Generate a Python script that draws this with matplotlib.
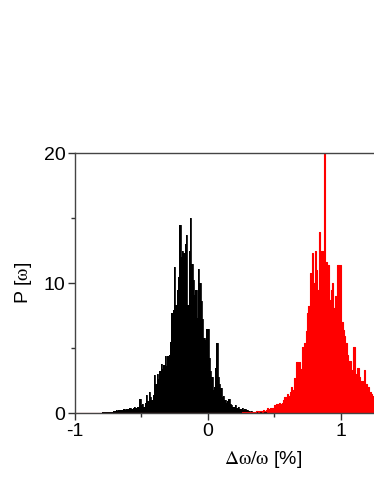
import matplotlib
matplotlib.use('Agg')
import matplotlib.pyplot as plt
import numpy as np

plt.rcParams['font.family'] = ['Liberation Sans', 'DejaVu Sans']
plt.rcParams['mathtext.fontset'] = 'stix'
plt.rcParams['axes.unicode_minus'] = False

# black spectrum, 0.01 steps from -0.80 to 0.45
black_x = np.round(np.arange(-0.80, 0.455, 0.01), 2)
black_y = [0.05, 0.05, 0.05, 0.05, 0.1, 0.05, 0.1, 0.1, 0.1, 0.15,
           0.15, 0.2, 0.15, 0.2, 0.2, 0.25, 0.2, 0.3, 0.25, 0.3,
           0.3, 0.35, 0.4, 0.3, 0.4, 0.5, 0.4, 0.45, 0.5, 1.1,
           0.6, 0.7, 0.5, 0.8, 1.4, 0.9, 1.6, 1.2, 1.0, 1.4,
           2.9, 2.2, 3.0, 2.6, 3.2, 3.8, 3.4, 3.7, 4.4, 3.6,
           4.4, 4.5, 5.5, 7.7, 7.9, 11.2, 8.3, 9.5, 10.5, 14.5,
           12.0, 12.5, 12.3, 13.0, 13.7, 8.3, 12.5, 15.0, 11.5, 10.2,
           9.1, 9.5, 7.3, 11.1, 10.0, 8.6, 7.2, 5.8, 5.6, 6.5,
           6.5, 4.2, 3.2, 2.8, 1.8, 2.0, 3.5, 5.4, 2.8, 2.2,
           1.9, 1.2, 1.3, 1.0, 0.8, 0.9, 1.1, 0.7, 0.6, 0.5,
           0.5, 0.6, 0.4, 0.5, 0.3, 0.3, 0.35, 0.25, 0.3, 0.2,
           0.2, 0.15, 0.1, 0.15, 0.1, 0.1, 0.05, 0.1, 0.05, 0.05,
           0.05, 0.05, 0, 0.05, 0, 0]

# red spectrum, 0.01 steps from -1.00 to 1.26
red_x = np.round(np.arange(-1.00, 1.265, 0.01), 2)
red_y = [0] * 125 + [
    0, 0.05, 0.05, 0.05, 0.05,
    0.05, 0.05, 0.1, 0.05, 0.1, 0.1, 0.1, 0.15, 0.1, 0.15,
    0.15, 0.1, 0.2, 0.15, 0.2, 0.35, 0.3, 0.4, 0.35, 0.4,
    0.6, 0.5, 0.7, 0.6, 0.8, 0.7, 0.8, 1.0, 1.2, 1.1,
    1.5, 1.3, 1.6, 2.0, 1.8, 2.7, 2.2, 3.9, 2.5, 3.9,
    3.4, 5.1, 4.5, 5.4, 6.3, 7.7, 8.2, 10.8, 7.9, 12.3,
    10.0, 12.5, 11.0, 9.5, 13.9, 10.2, 12.5, 9.0, 20.0, 11.6,
    10.5, 11.4, 8.7, 9.5, 10.0, 8.1, 9.0, 7.7, 11.4, 9.0,
    11.4, 7.0, 6.4, 5.9, 5.4, 4.5, 3.3, 4.0, 3.3, 3.0,
    5.1, 3.0, 2.5, 3.5, 2.8, 2.2, 2.5, 2.0, 3.3, 2.2,
    1.8, 2.0, 1.6, 1.5, 1.2, 1.3, 1.1]

fig = plt.figure(figsize=(3.74, 4.84), dpi=100)
# axes runs past the right edge of the picture, like the reference crop
ax = fig.add_axes([75 / 374, 71 / 484, 376 / 374, 260 / 484])

ax.fill_between(black_x, black_y, step='mid', color='black', lw=0)
ax.plot(black_x, black_y, drawstyle='steps-mid', color='black', lw=0.6)
ax.fill_between(red_x, red_y, step='mid', color='red', lw=0)
ax.plot(red_x, red_y, drawstyle='steps-mid', color='red', lw=0.8)

ax.set_xlim(-1, 1.83)
ax.set_ylim(0, 20)
ax.set_xticks([-1, 0, 1])
ax.set_xticks([-0.5, 0.5], minor=True)
ax.set_yticks([0, 10, 20])
ax.set_yticks([5, 15], minor=True)
ax.tick_params(which='major', direction='out', length=5, width=1, labelsize=14, pad=2, color='#333333')
ax.tick_params(which='minor', direction='out', length=3, width=1, color='#333333')
for s in ax.spines.values():
    s.set_color('#444444')
    s.set_linewidth(1)

ax.set_xlabel(r'$\mathrm{\Delta\omega/\omega}$ [%]', fontsize=14, labelpad=7)
ax.set_ylabel(r'P [$\mathrm{\omega}$]', fontsize=14, labelpad=7)

plt.savefig('out.png', dpi=100)
